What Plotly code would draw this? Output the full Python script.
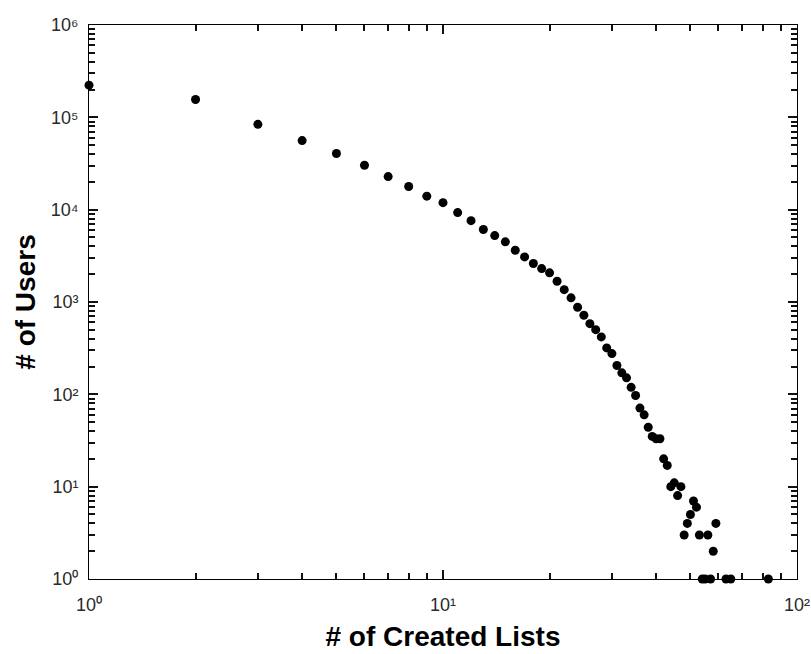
import plotly.graph_objects as go

# Number of lists created per user (x) against number of users (y)
created_lists = [1, 2, 3, 4, 5, 6, 7, 8, 9, 10,
                 11, 12, 13, 14, 15, 16, 17, 18, 19, 20,
                 21, 22, 23, 24, 25, 26, 27, 28, 29, 30,
                 31, 32, 33, 34, 35, 36, 37, 38, 39, 40,
                 41, 42, 43, 44, 45, 46, 47, 48, 49, 50,
                 51, 52, 53, 54, 55, 56, 57, 58, 59, 63,
                 65, 83]
num_users = [223000, 156000, 84000, 56000, 40600, 30300, 22800, 17800, 14000, 11900,
             9300, 7600, 6100, 5240, 4480, 3630, 3080, 2610, 2300, 2070,
             1680, 1360, 1110, 877, 718, 583, 502, 419, 318, 276,
             205, 171, 151, 119, 97, 71, 60, 44, 35, 33,
             33, 20, 17, 10, 11, 8, 10, 3, 4, 5,
             7, 6, 3, 1, 1, 3, 1, 2, 4, 1,
             1, 1]

# Decade tick labels: plotly's default log labels -> power-of-ten text
default_labels = ["1", "10", "100", "1000", "10k", "100k", "1M"]
power_labels = ["10\u2070", "10\u00b9", "10\u00b2", "10\u00b3",
                "10\u2074", "10\u2075", "10\u2076"]
label_alias = dict(zip(default_labels, power_labels))

fig = go.Figure(
    go.Scatter(
        x=created_lists,
        y=num_users,
        mode="markers",
        marker=dict(color="black", size=9, line=dict(width=0)),
        cliponaxis=False,
        showlegend=False,
    )
)

axis_common = dict(
    type="log",
    dtick=1,
    labelalias=label_alias,
    showgrid=False,
    zeroline=False,
    showline=True,
    linecolor="black",
    linewidth=1,
    mirror="allticks",
    ticks="inside",
    ticklen=9,
    tickwidth=2,
    tickcolor="#111111",
    tickfont=dict(family="Liberation Sans, Arial", size=18, color="#2a2a2a"),
    automargin=False,
    minor=dict(ticks="inside", ticklen=6, tickwidth=2, tickcolor="#111111", showgrid=False),
)

title_font = dict(family="Liberation Sans, Arial", size=28, color="black")

fig.update_xaxes(
    **axis_common,
    range=[0, 2],
    ticklabelstandoff=9,
    title=dict(text="<b># of Created Lists</b>", font=title_font, standoff=12),
)
fig.update_yaxes(
    **axis_common,
    range=[0, 6],
    ticklabelstandoff=6,
    title=dict(text="<b># of Users</b>", font=title_font, standoff=6),
)

fig.update_layout(
    width=811,
    height=654,
    margin=dict(l=89, r=14, t=25, b=75),
    paper_bgcolor="white",
    plot_bgcolor="white",
)

fig.write_html("out.html")
